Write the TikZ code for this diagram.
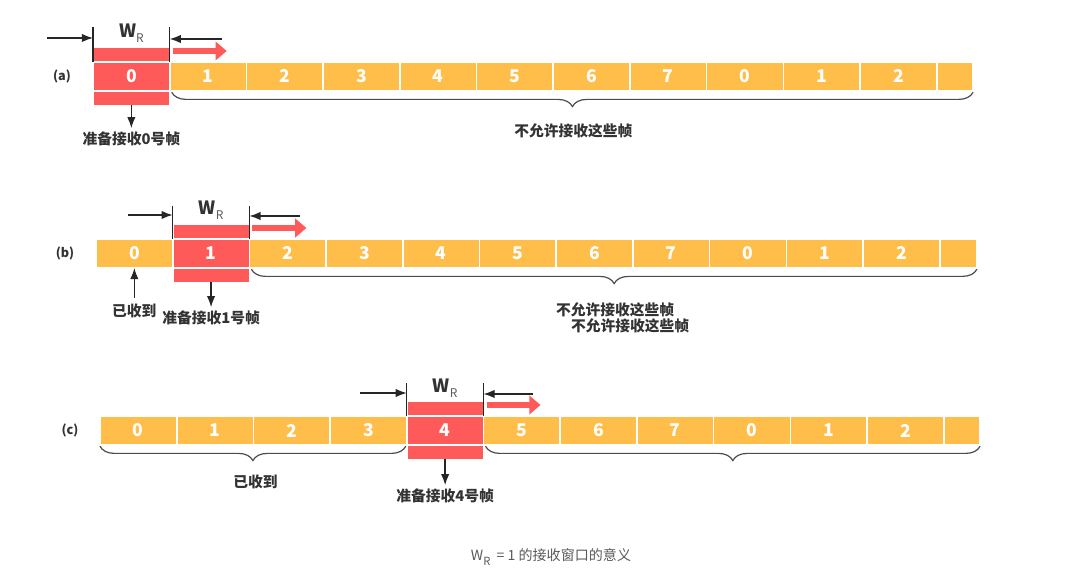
\documentclass[tikz,border=0pt]{standalone}
\usepackage{fontspec}
\newfontfamily\cjk{Noto Sans CJK SC}
\usetikzlibrary{positioning,calc,arrows.meta,decorations.pathreplacing}

\definecolor{frameorange}{RGB}{255,189,74}
\definecolor{winred}{RGB}{255,90,90}
\definecolor{txtgray}{RGB}{51,51,51}
\definecolor{capgray}{RGB}{90,90,90}

\tikzset{
  cell/.style={rectangle,fill=frameorange,draw=white,line width=0.4mm,
    minimum width=19.175mm,minimum height=7.25mm,inner sep=0pt,outer sep=0pt,
    text=white,font=\cjk\bfseries\fontsize{12.5}{12.5}\selectfont},
  wcell/.style={cell,fill=winred},
  band/.style={wcell,minimum height=3.6mm},
  lbl/.style={text=txtgray,font=\cjk\bfseries\fontsize{10.5}{12}\selectfont,inner sep=1pt},
  rowlbl/.style={lbl,font=\cjk\bfseries\fontsize{9}{10}\selectfont},
  edge/.style={draw=black!85,line width=0.33mm},
  arr/.style={edge,-{Latex[length=2.8mm,width=2.1mm]}},
  slide/.style={draw=winred,line width=1.5mm,-{Triangle[length=2.8mm,width=4.6mm]}},
  grp/.style={draw=black!70,line width=0.3mm,decorate,
    decoration={brace,mirror,amplitude=3.6mm,raise=0.3mm}},
}
\newcommand{\winlabel}{{\fontsize{13}{13}\selectfont\bfseries W}\raisebox{-0.6ex}{\color{capgray}\mdseries\fontsize{8.5}{9}\selectfont R}}

\begin{document}
\begin{tikzpicture}[x=0.25mm,y=-0.25mm]
  \useasboundingbox (0,0) rectangle (1080,588);

  % (a) receiver waits for frame 0
  \foreach \n [count=\i from 0] in {0,1,2,3,4,5,6,7,0,1,2}
    \node[cell] (a\i) at (131.35+76.7*\i,76.5) {\n};
  \node[cell,minimum width=9.1mm,anchor=west] (a11) at (a10.east) {};
  \node[wcell] (aw) at (a0) {0};
  \node[band,above=0pt of aw] (awt) {};
  \node[band,below=0pt of aw] (awb) {};
  \node[rowlbl] (alab) at (62,76.5) {(a)};
  \draw[edge] (aw.north west) -- ++(0,-35);
  \draw[edge] (aw.north east) -- ++(0,-35);
  \draw[arr] ($(aw.north west)+(-46,-24)$) -- ++(46,0);
  \draw[arr] ($(aw.north east)+(52,-23)$) -- ++(-52,0);
  \node[lbl] (awlab) at ($(aw.north)+(0,-29)$) {\winlabel};
  \draw[slide] ($(aw.north east)+(3,-11)$) -- ++(54,0);
  \node[lbl] (aready) at ($(awb.south)+(0,33)$) {准备接收0号帧};
  \draw[arr,shorten >=1pt] (awb) -- (aready);
  \draw[grp] ($(a1.south west)+(2,0)$) -- (a11.south east);
  \node[lbl] (anot) at ($(a1.south west)!0.5!(a11.south east)+(2,40)$) {不允许接收这些帧};

  % (b) frame 0 received, waits for frame 1
  \foreach \n [count=\i from 0] in {0,1,2,3,4,5,6,7,0,1,2}
    \node[cell] (b\i) at (134.35+76.7*\i,253.5) {\n};
  \node[cell,minimum width=9.3mm,anchor=west] (b11) at (b10.east) {};
  \node[wcell] (bw) at (b1) {1};
  \node[band,above=0pt of bw] (bwt) {};
  \node[band,below=0pt of bw] (bwb) {};
  \node[rowlbl] (blab) at (65,253.5) {(b)};
  \draw[edge] (bw.north west) -- ++(0,-33);
  \draw[edge] (bw.north east) -- ++(0,-33);
  \draw[arr] ($(bw.north west)+(-45,-24)$) -- ++(45,0);
  \draw[arr] ($(bw.north east)+(51,-23)$) -- ++(-51,0);
  \node[lbl] (bwlab) at ($(bw.north)+(0,-29)$) {\winlabel};
  \draw[slide] ($(bw.north east)+(3,-11)$) -- ++(54,0);
  \node[lbl] (bgot) at ($(b0.south)+(0,43)$) {已收到};
  \draw[arr,shorten <=3pt] (bgot) -- (b0);
  \node[lbl] (bready) at ($(bwb.south)+(0,35)$) {准备接收1号帧};
  \draw[arr,shorten >=1pt] (bwb) -- (bready);
  \draw[grp] ($(b2.south west)+(2,0)$) -- (b11.south east);
  \node[lbl] (bnot) at ($(b2.south west)!0.5!(b11.south east)+(2,42)$) {不允许接收这些帧};
  \node[lbl] (bnot2) at ($(bnot)+(15,16)$) {不允许接收这些帧};

  % (c) frames 0-3 received, waits for frame 4
  \foreach \n [count=\i from 0] in {0,1,2,3,4,5,6,7,0,1,2}
    \node[cell] (c\i) at (138.35+76.7*\i,430.5) {\n};
  \node[cell,minimum width=9.1mm,anchor=west] (c11) at (c10.east) {};
  \node[wcell] (cw) at (c4) {4};
  \node[band,above=0pt of cw] (cwt) {};
  \node[band,below=0pt of cw] (cwb) {};
  \node[rowlbl] (clab) at (70,430.5) {(c)};
  \draw[edge] (cw.north west) -- ++(0,-33);
  \draw[edge] (cw.north east) -- ++(0,-33);
  \draw[arr] ($(cw.north west)+(-47,-23)$) -- ++(47,0);
  \draw[arr] ($(cw.north east)+(49,-22)$) -- ++(-49,0);
  \node[lbl] (cwlab) at ($(cw.north)+(0,-28)$) {\winlabel};
  \draw[slide] ($(cw.north east)+(3,-11)$) -- ++(54,0);
  \draw[grp] (c0.south west) -- ($(c4.south west)+(-1,0)$);
  \node[lbl] (cgot) at ($(c0.south west)!0.5!(c4.south west)+(2,37)$) {已收到};
  \node[lbl] (cready) at ($(cwb.south)+(0,36)$) {准备接收4号帧};
  \draw[arr,shorten >=1pt] (cwb) -- (cready);
  \draw[grp] ($(c5.south west)+(2,0)$) -- (c11.south east);

  \node[text=capgray,font=\cjk\fontsize{10}{12}\selectfont] (cap) at (551,557)
    {W\raisebox{-0.7ex}{\fontsize{8}{8}\selectfont R}\ \ = 1 的接收窗口的意义};
\end{tikzpicture}
\end{document}
